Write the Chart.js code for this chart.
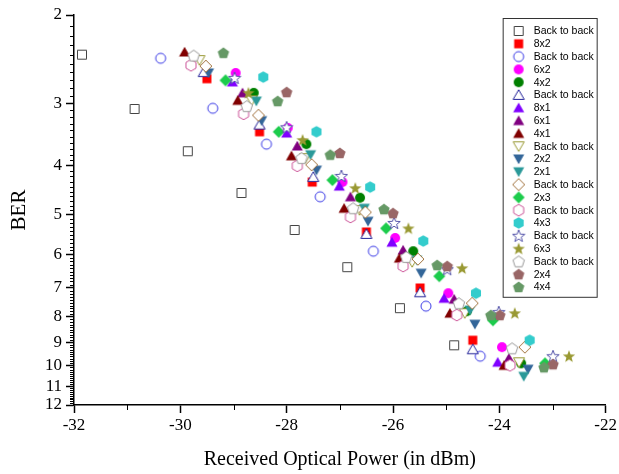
<!DOCTYPE html>
<html>
<head>
<meta charset="utf-8">
<title>BER vs received optical power</title>
<script src="https://cdn.jsdelivr.net/npm/chart.js@4.4.1/dist/chart.umd.min.js"></script>
<style>
    body { margin: 0; background: #fff; }
    canvas { display: block; }
</style>
</head>
<body>
<canvas id="berChart" width="619" height="474"></canvas>
<script>
// axis ticks
const xTicks = [-32, -30, -28, -26, -24, -22];
const yTicks = [2, 3, 4, 5, 6, 7, 8, 9, 10, 11, 12];

// [received power dBm, BER value]
const b2bSquare = [[-31.85, 2.40], [-30.86, 3.08], [-29.86, 3.74], [-28.85, 4.53], [-27.85, 5.37], [-26.86, 6.37], [-25.87, 7.69], [-24.85, 9.12]];
const ch8x2 = [[-29.50, 2.68], [-28.51, 3.42], [-27.52, 4.31], [-26.50, 5.42], [-25.49, 7.01], [-24.50, 8.91]];
const b2bCircle = [[-30.37, 2.44], [-29.39, 3.07], [-28.38, 3.62], [-27.37, 4.61], [-26.37, 5.92], [-25.38, 7.62], [-24.36, 9.59]];
const ch6x2 = [[-28.96, 2.61], [-27.98, 3.36], [-26.95, 4.31], [-25.96, 5.57], [-24.96, 7.18], [-23.95, 9.20]];
const ch4x2 = [[-28.62, 2.86], [-27.63, 3.62], [-26.62, 4.63], [-25.62, 5.92], [-24.61, 7.80], [-23.59, 9.91]];
const b2bTriangle = [[-29.56, 2.60], [-28.51, 3.31], [-27.50, 4.21], [-26.50, 5.47], [-25.49, 7.15], [-24.50, 9.29]];
const ch8x1 = [[-29.02, 2.72], [-28.00, 3.44], [-27.01, 4.39], [-26.02, 5.68], [-25.04, 7.35], [-24.03, 9.86]];
const ch6x1 = [[-28.83, 2.86], [-27.80, 3.65], [-26.80, 4.61], [-25.81, 5.89], [-24.85, 7.38], [-23.82, 9.68]];
const ch4x1 = [[-29.92, 2.37], [-28.92, 2.96], [-27.91, 3.82], [-26.92, 4.86], [-25.88, 6.11], [-24.93, 7.87], [-23.91, 10.0]];
const b2bDown = [[-29.64, 2.46], [-28.66, 2.96], [-27.65, 3.86], [-26.63, 4.90], [-25.64, 6.22], [-24.65, 7.87], [-23.63, 9.86]];
const ch2x2 = [[-29.47, 2.61], [-28.47, 3.25], [-27.44, 4.08], [-26.47, 5.16], [-25.47, 6.55], [-24.46, 8.28], [-23.46, 10.18]];
const ch2x1 = [[-28.57, 2.97], [-27.55, 3.80], [-26.54, 4.86], [-25.55, 6.17], [-24.55, 7.76], [-23.54, 10.52]];
const b2bDiamond = [[-29.52, 2.53], [-28.53, 3.17], [-27.53, 3.98], [-26.52, 4.95], [-25.53, 6.14], [-24.51, 7.52], [-23.52, 9.20]];
const ch2x3 = [[-29.15, 2.70], [-28.15, 3.42], [-27.14, 4.27], [-26.13, 5.33], [-25.13, 6.64], [-24.12, 8.13], [-23.14, 9.91]];
const b2bHexagon = [[-29.80, 2.52], [-28.81, 3.15], [-27.80, 4.00], [-26.80, 5.06], [-25.81, 6.34], [-24.80, 7.94], [-23.80, 10.0]];
const ch4x3 = [[-28.44, 2.66], [-27.44, 3.42], [-26.43, 4.41], [-25.43, 5.65], [-24.44, 7.18], [-23.43, 8.91]];
const b2bStar = [[-28.98, 2.67], [-28.00, 3.35], [-26.97, 4.19], [-25.98, 5.20], [-24.98, 6.43], [-24.01, 7.83], [-22.99, 9.59]];
const ch6x3 = [[-28.72, 2.86], [-27.70, 3.55], [-26.71, 4.43], [-25.71, 5.33], [-24.70, 6.40], [-23.71, 7.87], [-22.69, 9.59]];
const b2bPentagon = [[-29.75, 2.41], [-28.75, 3.04], [-27.72, 3.86], [-26.75, 4.86], [-25.75, 6.08], [-24.76, 7.52], [-23.76, 9.25]];
const ch2x4 = [[-28.00, 2.85], [-27.00, 3.77], [-26.00, 4.97], [-24.98, 6.34], [-23.99, 7.94], [-22.99, 9.95]];
const ch4x4 = [[-29.19, 2.38], [-28.17, 2.97], [-27.18, 3.80], [-26.17, 4.88], [-25.17, 6.31], [-24.16, 7.94], [-23.16, 10.09]];

const seriesLabels = [
    "Back to back", "8x2", "Back to back", "6x2", "4x2", "Back to back", "8x1",
    "6x1", "4x1", "Back to back", "2x2", "2x1", "Back to back", "2x3",
    "Back to back", "4x3", "Back to back", "6x3", "Back to back", "2x4", "4x4",
];
const seriesData = [
    b2bSquare, ch8x2, b2bCircle, ch6x2, ch4x2, b2bTriangle, ch8x1,
    ch6x1, ch4x1, b2bDown, ch2x2, ch2x1, b2bDiamond, ch2x3,
    b2bHexagon, ch4x3, b2bStar, ch6x3, b2bPentagon, ch2x4, ch4x4,
];
const seriesShapes = [
    "square", "square", "circle", "circle", "circle", "up", "up",
    "up", "up", "down", "down", "down", "diamond", "diamond",
    "hexagon", "hexagon", "star", "star", "pentagon", "pentagon", "pentagon",
];
const seriesColors = [
    "#444444", "#ff0000", "#3a3ae6", "#ff00ff", "#008000", "#222299", "#8000ff",
    "#800080", "#800000", "#999933", "#336699", "#2a9999", "#a0703a", "#1ccc4c",
    "#cc5599", "#33cccc", "#5555aa", "#999933", "#999999", "#996666", "#669966",
];
const seriesFilled = [
    false, true, false, true, true, false, true,
    true, true, false, true, true, false, true,
    false, true, false, true, false, true, true,
];

const SERIF = "'Liberation Serif', 'Times New Roman', serif";
const SANS = "'Liberation Sans', Arial, sans-serif";

function polygonPath(ctx, cx, cy, r, sides, startDeg) {
    for (let i = 0; i < sides; i++) {
        const a = ((startDeg + (i * 360) / sides) * Math.PI) / 180;
        const px = cx + r * Math.cos(a);
        const py = cy + r * Math.sin(a);
        if (i === 0) ctx.moveTo(px, py);
        else ctx.lineTo(px, py);
    }
}

function starPath(ctx, cx, cy, outer, inner) {
    for (let i = 0; i < 10; i++) {
        const r = i % 2 === 0 ? outer : inner;
        const a = ((-90 + i * 36) * Math.PI) / 180;
        const px = cx + r * Math.cos(a);
        const py = cy + r * Math.sin(a);
        if (i === 0) ctx.moveTo(px, py);
        else ctx.lineTo(px, py);
    }
}

function makeMarker(shape, color, filled) {
    const size = 14;
    const c = document.createElement("canvas");
    c.width = size;
    c.height = size;
    const ctx = c.getContext("2d");
    const m = size / 2;

    ctx.beginPath();
    if (shape === "square") {
        ctx.rect(2.5, 2.5, 9, 9);
    } else if (shape === "circle") {
        ctx.arc(m, m, 5, 0, Math.PI * 2);
    } else if (shape === "up") {
        polygonPath(ctx, m, m + 1.2, 6.4, 3, -90);
    } else if (shape === "down") {
        polygonPath(ctx, m, m - 1.2, 6.4, 3, 90);
    } else if (shape === "diamond") {
        polygonPath(ctx, m, m, 6, 4, -90);
    } else if (shape === "hexagon") {
        polygonPath(ctx, m, m, 5.8, 6, -90);
    } else if (shape === "pentagon") {
        polygonPath(ctx, m, m + 0.5, 6, 5, -90);
    } else if (shape === "star") {
        starPath(ctx, m, m + 0.5, 6.5, 2.7);
    }
    ctx.closePath();

    if (filled) {
        ctx.fillStyle = color;
        ctx.fill();
    } else {
        ctx.fillStyle = "#ffffff";
        ctx.fill();
        ctx.strokeStyle = color;
        ctx.lineWidth = 1;
        ctx.stroke();
    }
    return c;
}

const markers = seriesShapes.map((shape, i) =>
    makeMarker(shape, seriesColors[i], seriesFilled[i])
);

const datasets = seriesData.map((points, i) => ({
    label: seriesLabels[i],
    data: points.map(([x, y]) => ({ x, y })),
    pointStyle: markers[i],
    showLine: false,
    order: -i,
}));

// short ticks between the labelled ones
const minorTicks = {
    id: "minorTicks",
    afterDraw(chart) {
        const { ctx, chartArea } = chart;
        const xScale = chart.scales.x;
        const yScale = chart.scales.y;
        ctx.save();
        ctx.strokeStyle = "#000";
        ctx.lineWidth = 1;
        ctx.beginPath();
        for (let i = 21; i < 120; i++) {
            if (i % 10 === 0) continue;
            const py = Math.round(yScale.getPixelForValue(i / 10)) + 0.5;
            ctx.moveTo(chartArea.left, py);
            ctx.lineTo(chartArea.left - 4, py);
        }
        for (let v = -31; v < -22; v += 2) {
            const px = Math.round(xScale.getPixelForValue(v)) + 0.5;
            ctx.moveTo(px, chartArea.bottom);
            ctx.lineTo(px, chartArea.bottom + 5);
        }
        ctx.stroke();
        ctx.restore();
    },
};

// boxed legend sitting inside the plot, top right
const boxLegend = {
    id: "boxLegend",
    afterDraw(chart) {
        const { ctx, chartArea } = chart;
        const left = chartArea.right - 103;
        const top = chartArea.top + 3;
        const rowHeight = 12.8;
        const count = chart.data.datasets.length;
        const height = rowHeight * count + 10;

        ctx.save();
        ctx.fillStyle = "#fff";
        ctx.fillRect(left, top, 94, height);
        ctx.strokeStyle = "#333";
        ctx.lineWidth = 1;
        ctx.strokeRect(left + 0.5, top + 0.5, 94, height);

        ctx.font = "10.5px " + SANS;
        ctx.fillStyle = "#000";
        ctx.textBaseline = "middle";
        chart.data.datasets.forEach((ds, i) => {
            const cy = top + 13 + i * rowHeight;
            const img = ds.pointStyle;
            ctx.drawImage(img, left + 16 - img.width / 2, cy - img.height / 2);
            ctx.fillText(ds.label, left + 31, cy + 0.5);
        });
        ctx.restore();
    },
};

new Chart(document.getElementById("berChart"), {
    type: "scatter",
    data: { datasets },
    plugins: [minorTicks, boxLegend],
    options: {
        responsive: false,
        animation: false,
        devicePixelRatio: 1,
        layout: { padding: { top: 15, right: 12, left: 0, bottom: 0 } },
        plugins: {
            legend: { display: false },
            tooltip: { enabled: false },
        },
        scales: {
            x: {
                type: "linear",
                min: -32,
                max: -22,
                afterBuildTicks: (scale) => {
                    scale.ticks = xTicks.map((v) => ({ value: v }));
                },
                afterFit: (scale) => {
                    scale.height = 69;
                },
                ticks: {
                    autoSkip: false,
                    maxRotation: 0,
                    padding: 2,
                    color: "#000",
                    font: { family: SERIF, size: 17 },
                },
                grid: {
                    drawOnChartArea: false,
                    tickLength: 8,
                    tickColor: "#000",
                    tickWidth: 1.5,
                },
                border: { color: "#000", width: 1.5 },
                title: {
                    display: true,
                    text: "Received Optical Power (in dBm)",
                    color: "#000",
                    font: { family: SERIF, size: 20 },
                    padding: { top: 0, bottom: 2 },
                },
            },
            y: {
                type: "logarithmic",
                reverse: true,
                min: 2,
                max: 12,
                afterBuildTicks: (scale) => {
                    scale.ticks = yTicks.map((v) => ({ value: v }));
                },
                afterFit: (scale) => {
                    scale.width = 74;
                },
                ticks: {
                    autoSkip: false,
                    padding: 4,
                    color: "#000",
                    font: { family: SERIF, size: 17 },
                    callback: (value) => String(value),
                },
                grid: {
                    drawOnChartArea: false,
                    tickLength: 8,
                    tickColor: "#000",
                    tickWidth: 1.5,
                },
                border: { color: "#000", width: 1.5 },
                title: {
                    display: true,
                    text: "BER",
                    color: "#000",
                    font: { family: SERIF, size: 21 },
                    padding: { top: 7, bottom: 0 },
                },
            },
        },
    },
});
</script>
</body>
</html>
